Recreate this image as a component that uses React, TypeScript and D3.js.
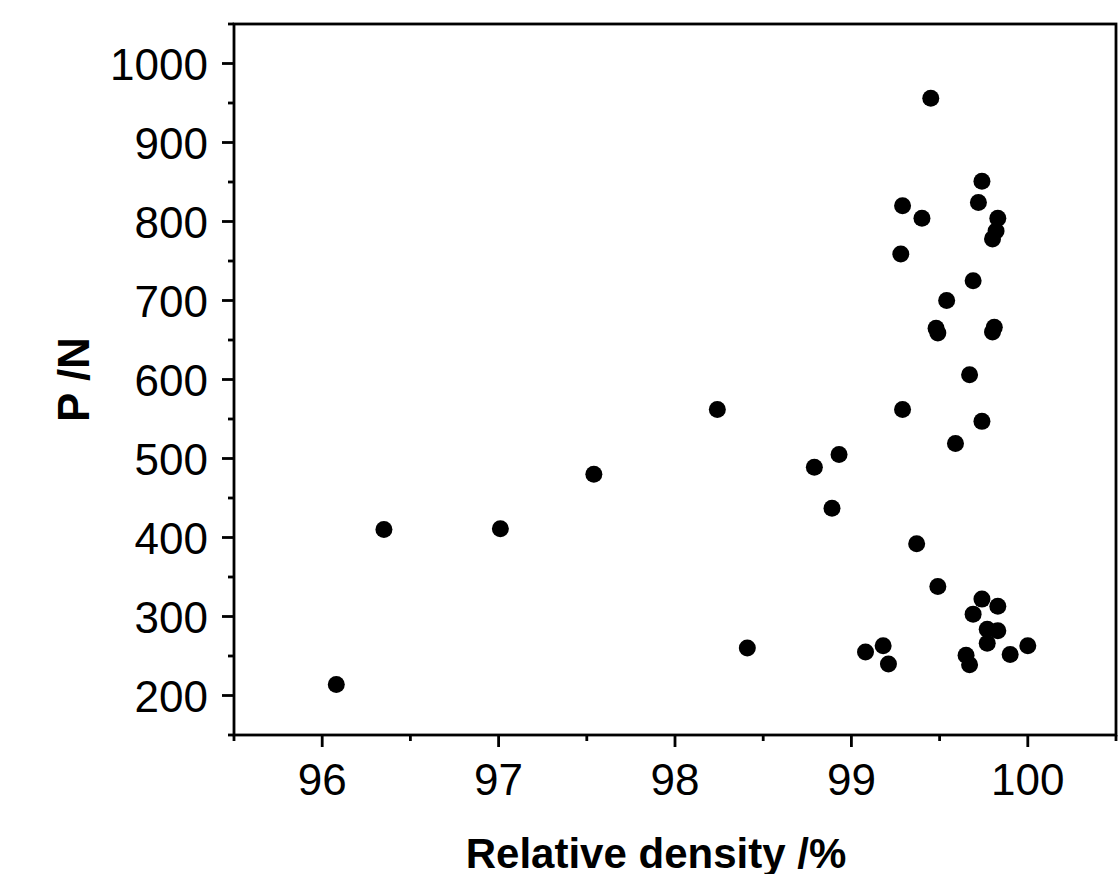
import React from "react";
import * as d3 from "d3";

const densityValues: number[] = [
  96.08, 96.35, 97.01, 97.54, 98.24, 98.41, 98.79, 98.93, 98.89, 99.08,
  99.18, 99.21, 99.29, 99.40, 99.28, 99.54, 99.48, 99.49, 99.29, 99.37,
  99.49, 99.45, 99.74, 99.72, 99.83, 99.82, 99.80, 99.69, 99.81, 99.80,
  99.67, 99.74, 99.59, 99.74, 99.83, 99.69, 99.77, 99.83, 99.77, 100.0,
  99.90, 99.65, 99.67,
];
const loadValues: number[] = [
  214, 410, 411, 480, 562, 260, 489, 505, 437, 255,
  263, 240, 820, 804, 759, 700, 665, 659, 562, 392,
  338, 956, 851, 824, 804, 788, 778, 725, 666, 660,
  606, 547, 519, 322, 313, 303, 284, 282, 266, 263,
  252, 251, 239,
];

const xMajorTicks = [96, 97, 98, 99, 100];
const xMinorTicks = [95.5, 96.5, 97.5, 98.5, 99.5, 100.5];
const yMajorTicks = [200, 300, 400, 500, 600, 700, 800, 900, 1000];
const yMinorTicks = [150, 250, 350, 450, 550, 650, 750, 850, 950, 1050];

const xLabel = "Relative density /%";
const yLabel = "P /N";

const W = 1118;
const H = 874;
const left = 234;
const right = 1116;
const top = 24;
const bottom = 735;

export default function App() {
  const x = d3.scaleLinear().domain([95.5, 100.5]).range([left, right]);
  const y = d3.scaleLinear().domain([150, 1050]).range([bottom, top]);
  const font = "'Liberation Sans', Arial, sans-serif";
  const sw = 2.8;
  const majorLen = 12;
  const minorLen = 6;

  return (
    <svg
      width={W}
      height={H}
      style={{ position: "absolute", left: 0, top: 0, background: "#fff" }}
      fontFamily={font}
    >
      <rect x={0} y={0} width={W} height={H} fill="#fff" />
      {/* frame */}
      <rect
        x={left}
        y={top}
        width={right - left}
        height={bottom - top}
        fill="none"
        stroke="#000"
        strokeWidth={sw}
      />
      {/* x ticks */}
      {xMajorTicks.map((t) => (
        <g key={"xm" + t}>
          <line x1={x(t)} x2={x(t)} y1={bottom} y2={bottom + majorLen} stroke="#000" strokeWidth={sw} />
          <text x={x(t)} y={795} textAnchor="middle" fontSize={44} fill="#000">
            {t}
          </text>
        </g>
      ))}
      {xMinorTicks.map((t) => (
        <line key={"xn" + t} x1={x(t)} x2={x(t)} y1={bottom} y2={bottom + minorLen} stroke="#000" strokeWidth={sw} />
      ))}
      {/* y ticks */}
      {yMajorTicks.map((t) => (
        <g key={"ym" + t}>
          <line x1={left} x2={left - majorLen} y1={y(t)} y2={y(t)} stroke="#000" strokeWidth={sw} />
          <text x={208} y={y(t) + 16} textAnchor="end" fontSize={44} fill="#000">
            {t}
          </text>
        </g>
      ))}
      {yMinorTicks.map((t) => (
        <line key={"yn" + t} x1={left} x2={left - minorLen} y1={y(t)} y2={y(t)} stroke="#000" strokeWidth={sw} />
      ))}
      {/* points */}
      {densityValues.map((d, i) => (
        <circle key={"p" + i} cx={x(d)} cy={y(loadValues[i])} r={8.5} fill="#000" />
      ))}
      {/* axis titles */}
      <text x={656} y={868} textAnchor="middle" fontSize={42} fontWeight="bold" fill="#000">
        {xLabel}
      </text>
      <text
        transform={`translate(89, ${(top + bottom) / 2}) rotate(-90)`}
        textAnchor="middle"
        fontSize={44}
        fontWeight="bold"
        fill="#000"
      >
        {yLabel}
      </text>
    </svg>
  );
}
